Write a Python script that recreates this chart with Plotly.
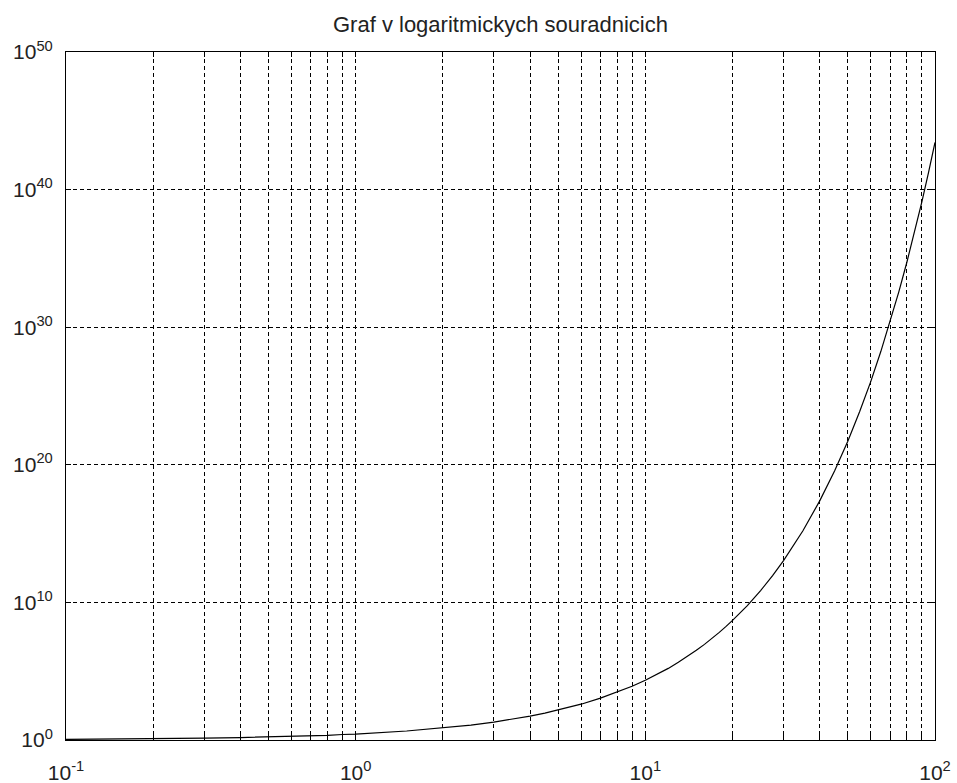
import plotly.graph_objects as go

# data
x_vals = [0.1, 0.2, 0.3, 0.4, 0.5, 0.6, 0.7, 0.8, 0.9, 1,
          1.5, 2, 2.5, 3, 3.5, 4, 4.5, 5, 6, 7, 8, 9, 10,
          11, 12, 13, 14, 15, 16, 17, 18, 19, 20,
          22.5, 25, 27.5, 30, 35, 40, 45, 50, 55, 60, 65, 70, 75, 80, 85, 90, 95, 100]
y_vals = [1.1, 1.2, 1.35, 1.5, 1.65, 1.8, 2.0, 2.2, 2.5, 2.7,
          4.5, 7.4, 12, 20, 33, 55, 90, 150, 400, 1100, 3000, 8100, 2.2e4,
          6.0e4, 1.6e5, 4.4e5, 1.2e6, 3.3e6, 8.9e6, 2.4e7, 6.6e7, 1.8e8, 4.9e8,
          5.9e9, 7.2e10, 8.7e11, 1.1e13, 1.6e15, 2.4e17, 3.5e19, 5.2e21, 7.7e23,
          1.1e26, 1.7e28, 2.5e30, 3.7e32, 5.5e34, 8.2e36, 1.2e39, 1.8e41, 2.7e43]

title_text = "Graf v logaritmickych souradnicich"

x_tickvals = [m * 10.0 ** e for e in (-1, 0, 1) for m in range(1, 10)] + [100]
x_ticktext = [("10<sup>%d</sup>" % e if m == 1 else "") for e in (-1, 0, 1) for m in range(1, 10)] + ["10<sup>2</sup>"]
y_exps = [0, 10, 20, 30, 40, 50]
y_tickvals = [10.0 ** e for e in y_exps]
y_ticktext = ["10<sup>%d</sup>" % e for e in y_exps]

FONT = "Liberation Sans, Arial, sans-serif"
DASH = "4px,3px"

fig = go.Figure()
fig.add_trace(go.Scatter(x=x_vals, y=y_vals, mode="lines",
                         line=dict(color="black", width=1.2), showlegend=False))

fig.update_layout(
    width=957, height=783,
    paper_bgcolor="white", plot_bgcolor="white",
    margin=dict(l=66, r=22, t=52, b=43, autoexpand=False),
    font=dict(family=FONT, size=21, color="#222222"),
    title=dict(text=title_text, x=(66 + 935) / 2 / 957, xanchor="center",
               y=1 - 24 / 783, yanchor="middle", automargin=False,
               font=dict(family=FONT, size=22, color="#222222")),
)
fig.update_xaxes(type="log", range=[-1, 2], tickmode="array",
                 tickvals=x_tickvals, ticktext=x_ticktext,
                 showline=True, linecolor="black", linewidth=1, mirror="allticks",
                 ticks="inside", ticklen=5, tickcolor="black",
                 showgrid=True, gridcolor="black", griddash=DASH, gridwidth=1,
                 zeroline=False, tickfont=dict(family=FONT, size=21),
                 ticklabelstandoff=14, automargin=False)
fig.update_yaxes(type="log", range=[0, 50], tickmode="array",
                 tickvals=y_tickvals, ticktext=y_ticktext,
                 showline=True, linecolor="black", linewidth=1, mirror="allticks",
                 ticks="inside", ticklen=5, tickcolor="black",
                 showgrid=True, gridcolor="black", griddash=DASH, gridwidth=1,
                 zeroline=False, tickfont=dict(family=FONT, size=21),
                 ticklabelstandoff=8, automargin=False)

fig.write_html("out.html")
